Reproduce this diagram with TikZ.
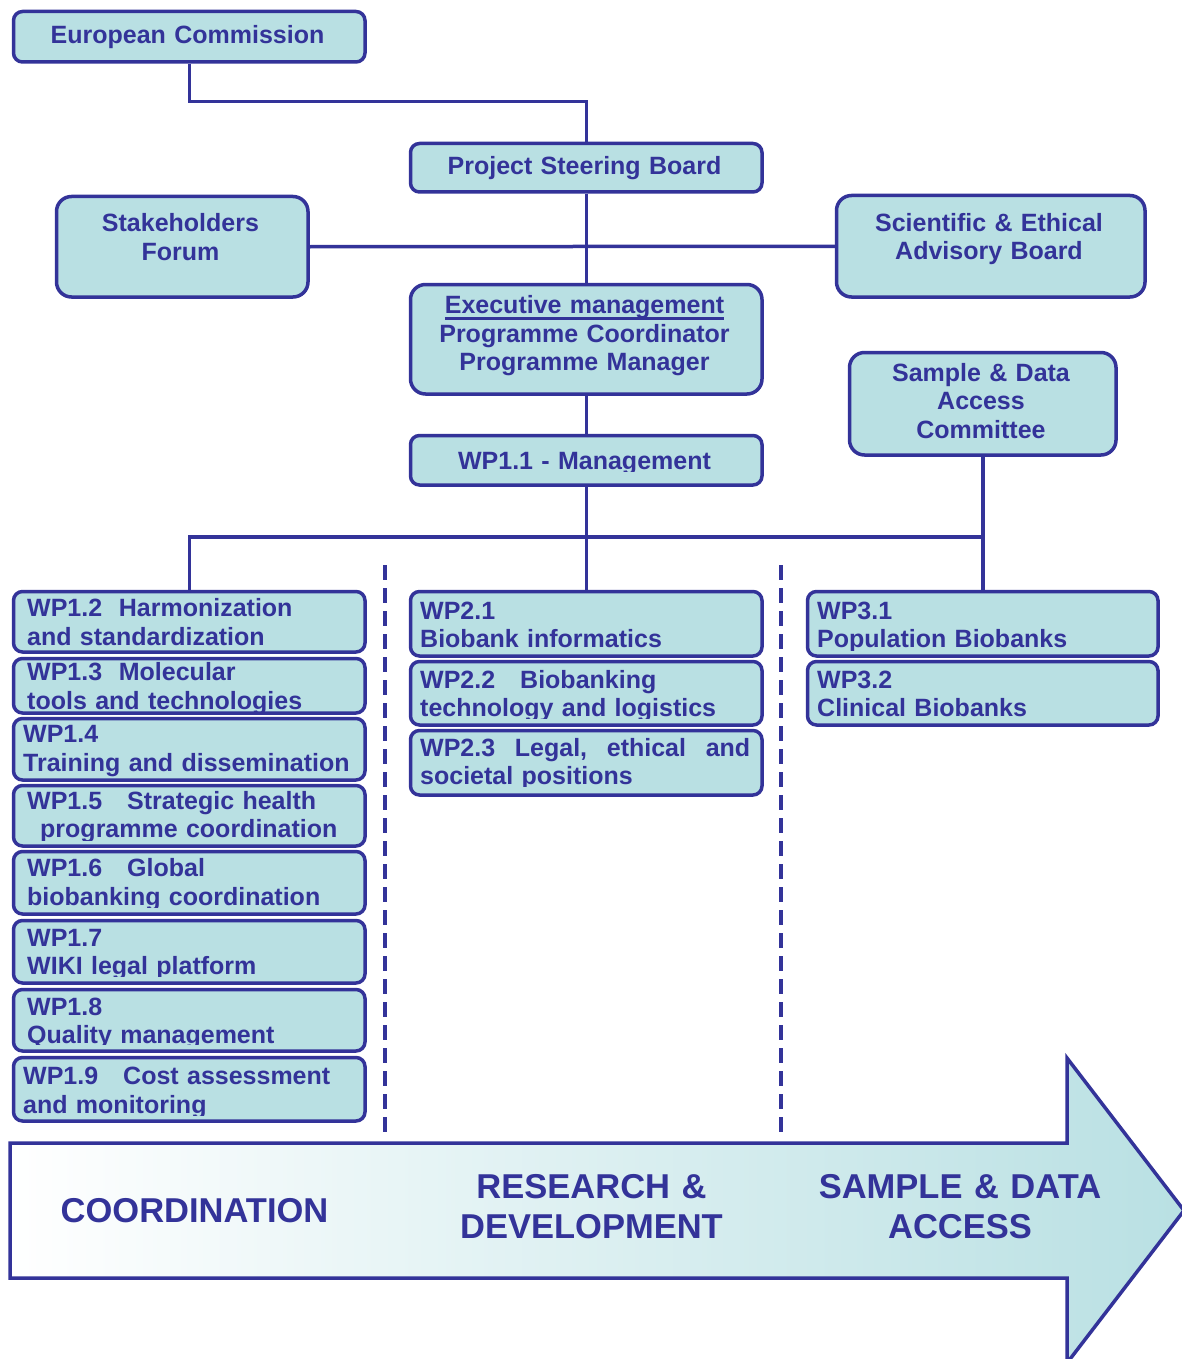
\documentclass[tikz,border=0pt]{standalone}
\usepackage{fontspec}
\setmainfont{Liberation Sans}
\definecolor{navy}{RGB}{51,51,153}
\definecolor{boxfill}{RGB}{185,224,227}
\newcommand\myul[1]{\setbox0=\hbox{#1}\rlap{\rule[-6pt]{\wd0}{2.7pt}}\box0}
\newcommand\jfill{\hspace{0pt plus 1filll}}
\newcommand\mkbox[6][]{\node[box, #1, minimum width={#5-#3-3.5}, minimum height={#6-#4-3.5}] (#2) at ({#3+1.75},{#4+1.75}) {};}
\begin{document}
\begin{tikzpicture}[x=1pt,y=-1pt,
  box/.style={draw=navy, fill=boxfill, line width=3.5pt, rounded corners=9pt, inner sep=0pt, anchor=north west, shape=rectangle},
  bigbox/.style={rounded corners=15pt},
  wptext/.style={text=navy, font=\fontsize{25}{28.7}\selectfont\bfseries, inner sep=0pt, align=left, text width=345pt, anchor=base west},
  ctext/.style={text=navy, font=\fontsize{25}{28.7}\selectfont\bfseries, inner sep=0pt, align=center, text width=340pt, anchor=base},
  bigtext/.style={text=navy, font=\fontsize{34.5}{40}\selectfont\bfseries, inner sep=0pt, align=center, text width=380pt, anchor=base},
  conn/.style={draw=navy, line width=3.5pt},
  sepline/.style={draw=navy, line width=3.5pt, dash pattern=on 15pt off 8pt}]
\useasboundingbox (0,0) rectangle (1182,1359);

% bottom arrow
\path[draw=navy, line width=3.5pt, left color=white, right color=boxfill]
  (10,1143) -- (1067,1143) -- (1067,1058) -- (1184,1210.5) -- (1067,1363) -- (1067,1278) -- (10,1278) -- cycle;
\node[bigtext] (tcoord) at (194.5,1222) {COORDINATION};
\node[bigtext] (trd) at (591.5,1198) {RESEARCH \&\\DEVELOPMENT};
\node[bigtext] (tsda) at (960,1198) {SAMPLE \& DATA\\ACCESS};

% dashed separators
\coordinate (s1a) at (385,565); \coordinate (s1b) at (385,1132);
\coordinate (s2a) at (781,565); \coordinate (s2b) at (781,1132);
\draw[sepline] (s1a) -- (s1b);
\draw[sepline] (s2a) -- (s2b);

% boxes
\mkbox{ec}{10}{8}{365}{62}
\mkbox{psb}{407}{140}{762}{192}
\mkbox[bigbox]{sf}{53}{193}{308}{297}
\mkbox[bigbox]{seab}{833}{192}{1145}{297}
\mkbox[bigbox]{exec}{407}{281}{762}{394}
\mkbox{wp11}{407}{432}{762}{485}
\mkbox[bigbox]{sdac}{846}{349}{1116}{455}
\mkbox{wp12}{10}{588}{365}{652}
\mkbox{wp13}{10}{655}{365}{713}
\mkbox{wp14}{10}{715}{365}{780}
\mkbox{wp15}{10}{782}{365}{846}
\mkbox{wp16}{10}{848}{365}{914}
\mkbox{wp17}{10}{917}{365}{983}
\mkbox{wp18}{10}{986}{365}{1051}
\mkbox{wp19}{10}{1054}{365}{1121}
\mkbox{wp21}{407}{588}{762}{656}
\mkbox{wp22}{407}{658}{762}{725}
\mkbox{wp23}{407}{727}{762}{795}
\mkbox{wp31}{804}{588}{1158}{656}
\mkbox{wp32}{804}{658}{1158}{725}

% connectors
\draw[conn] (ec.south) -- ++(0,38) -| (psb.north);
\draw[conn] (psb.south) -- (exec.north);
\draw[conn] (sf.east) -- (seab.west);
\draw[conn] (exec.south) -- (wp11.north);
\draw[conn] (wp11.south) -- (wp21.north);
\draw[conn] (wp12.north) |- (wp31.north |- 0,537);
\draw[conn] (sdac.south) -- (wp31.north);

% centred texts
\node[ctext] (tec) at (187.5,43.5) {European Commission};
\node[ctext] (tpsb) at (584.5,175) {Project Steering Board};
\node[ctext] (tsf) at (180.5,231.5) {Stakeholders\\Forum};
\node[ctext] (tseab) at (989,231) {Scientific \& Ethical\\Advisory Board};
\node[ctext] (texec) at (584.5,313.5) {\myul{Executive management}\\Programme Coordinator\\Programme Manager};
\begin{scope}
  \clip (407,432) rectangle (762,471);
  \node[ctext] (t11) at (584.5,469.5) {WP1.1 - Management};
\end{scope}
\node[ctext] (tsdac) at (981,381) {Sample \& Data\\Access\\Committee};

% work package texts
\node[wptext] (t12) at (27,616.5) {WP1.2~~Harmonization\\and standardization};
\begin{scope}
  \clip (10,655) rectangle (365,711);
  \node[wptext] (t13) at (27,680.5) {WP1.3~~Molecular\\tools and technologies};
\end{scope}
\node[wptext] (t14) at (23,742.5) {WP1.4\\Training and dissemination};
\begin{scope}
  \clip (10,782) rectangle (365,840.5);
  \node[wptext] (t15) at (27,809) {WP1.5~~~Strategic health\\\hspace*{13pt}programme coordination};
\end{scope}
\begin{scope}
  \clip (10,848) rectangle (365,907.5);
  \node[wptext] (t16) at (27,876.5) {WP1.6~~~Global\\biobanking coordination};
\end{scope}
\begin{scope}
  \clip (10,917) rectangle (365,976.5);
  \node[wptext] (t17) at (27,946) {WP1.7\\WIKI legal platform};
\end{scope}
\begin{scope}
  \clip (10,986) rectangle (365,1044.5);
  \node[wptext] (t18) at (27,1015) {WP1.8\\Quality management};
\end{scope}
\begin{scope}
  \clip (10,1054) rectangle (365,1115.5);
  \node[wptext] (t19) at (23,1084.5) {WP1.9~~~Cost assessment\\and monitoring};
\end{scope}
\node[wptext] (t21) at (420,619) {WP2.1\\Biobank informatics};
\begin{scope}
  \clip (407,658) rectangle (762,718.5);
  \node[wptext] (t22) at (420,688) {WP2.2~~~Biobanking\\technology and logistics};
\end{scope}
\begin{scope}
  \clip (407,727) rectangle (762,786.5);
  \node[wptext, text width=330pt] (t23) at (420,756) {WP2.3\jfill Legal,\jfill ethical\jfill and\\societal positions};
\end{scope}
\begin{scope}
  \clip (804,588) rectangle (1158,650.5);
  \node[wptext] (t31) at (817,619) {WP3.1\\Population Biobanks};
\end{scope}
\node[wptext] (t32) at (817,688) {WP3.2\\Clinical Biobanks};
\end{tikzpicture}
\end{document}
